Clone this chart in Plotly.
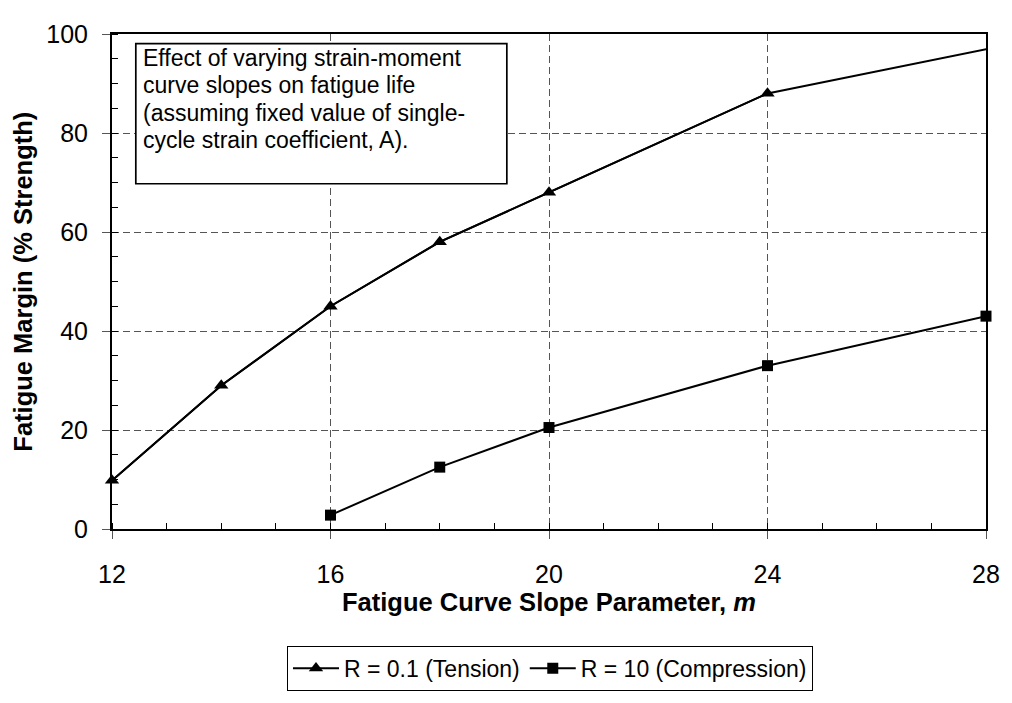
import plotly.graph_objects as go

# ---- data ----
m_tension = [12, 14, 16, 18, 20, 24, 32]
fm_tension = [9.8, 29, 45, 58, 68, 88, 105.8]
m_compression = [16, 18, 20, 24, 28]
fm_compression = [2.8, 12.5, 20.5, 33, 43]
x_ticks = [12, 16, 20, 24, 28]
y_ticks = [0, 20, 40, 60, 80, 100]
x_range = [12, 28]
y_range = [0, 100]
box_lines = ["Effect of varying strain-moment",
             "curve slopes on fatigue life",
             "(assuming fixed value of single-",
             "cycle strain coefficient, A)."]

# page body has an 8px default margin -> shrink figure accordingly
OFF = 8
W, H = 1012 - OFF, 703 - OFF
PL, PT, PR, PB = 112, 20, 993, 539          # plot area in screen pixels
L, T = PL - OFF, PT - OFF
R, B = 1012 - PR, (H + OFF) - PB
PW, PH = PR - PL, PB - PT
FONT = "Liberation Sans, Arial, sans-serif"


def px_x(sx):
    return (sx - PL) / PW


def px_y(sy):
    return (PB - sy) / PH


in_t = [(x, y) for x, y in zip(m_tension, fm_tension) if x_range[0] <= x <= x_range[1]]

fig = go.Figure()
fig.add_trace(go.Scatter(x=m_tension, y=fm_tension, mode="lines",
                         line=dict(color="black", width=2), cliponaxis=True,
                         showlegend=False, hoverinfo="skip"))
fig.add_trace(go.Scatter(x=[p[0] for p in in_t], y=[p[1] for p in in_t], mode="lines+markers",
                         name="R = 0.1 (Tension)", cliponaxis=False,
                         line=dict(color="black", width=2),
                         marker=dict(symbol="triangle-up", size=12.5, color="black")))
fig.add_trace(go.Scatter(x=m_compression, y=fm_compression, mode="lines+markers",
                         name="R = 10 (Compression)", cliponaxis=False,
                         line=dict(color="black", width=2),
                         marker=dict(symbol="square", size=11, color="black")))

axis_common = dict(showline=True, linecolor="black", linewidth=2, mirror=True,
                   showgrid=True, gridcolor="#555555", gridwidth=1, griddash="7px,4px",
                   zeroline=False, ticks="outside", ticklen=8, tickcolor="#555555",
                   ticklabeloverflow="allow",
                   tickfont=dict(family=FONT, size=25, color="black"))

fig.update_xaxes(range=x_range, tickvals=x_ticks, ticklabelstandoff=14,
                 minor=dict(dtick=1, tick0=12, ticks="inside", ticklen=6, tickcolor="black", showgrid=False),
                 **axis_common)
fig.update_yaxes(range=y_range, tickvals=y_ticks, ticklabelstandoff=9,
                 minor=dict(dtick=5, tick0=0, ticks="inside", ticklen=6, tickcolor="black", showgrid=False),
                 **axis_common)

# text box
fig.add_shape(type="rect", xref="paper", yref="paper",
              x0=px_x(136), x1=px_x(510), y0=px_y(177), y1=px_y(30),
              line=dict(color="black", width=1.7), fillcolor="white", layer="above")

for i, line in enumerate(box_lines):
    baseline = 53 + 28.5 * i
    fig.add_annotation(xref="paper", yref="paper", x=px_x(141), y=px_y(baseline - 7.6),
                       xanchor="left", yanchor="middle", align="left", showarrow=False,
                       text=line, font=dict(family=FONT, size=23, color="black"))

# axis titles
fig.add_annotation(xref="paper", yref="paper", x=px_x(552), y=px_y(616),
                   xanchor="center", yanchor="middle", showarrow=False,
                   text="<b>Fatigue Curve Slope Parameter, <i>m</i></b>",
                   font=dict(family=FONT, size=25.5, color="black"))
fig.add_annotation(xref="paper", yref="paper", x=px_x(22), y=px_y(280),
                   xanchor="center", yanchor="middle", showarrow=False, textangle=-90,
                   text="<b>Fatigue Margin (% Strength)</b>",
                   font=dict(family=FONT, size=25.5, color="black"))

fig.update_layout(
    width=W, height=H, margin=dict(l=L, r=R, t=T, b=B, pad=0),
    paper_bgcolor="white", plot_bgcolor="white",
    showlegend=True,
    legend=dict(orientation="h", x=px_x(553.5), xanchor="center", xref="paper",
                y=px_y(685), yanchor="middle", yref="paper",
                bgcolor="white", bordercolor="black", borderwidth=1,
                font=dict(family=FONT, size=23, color="black"),
                itemwidth=46, tracegroupgap=0),
)

fig.write_html("out.html")
